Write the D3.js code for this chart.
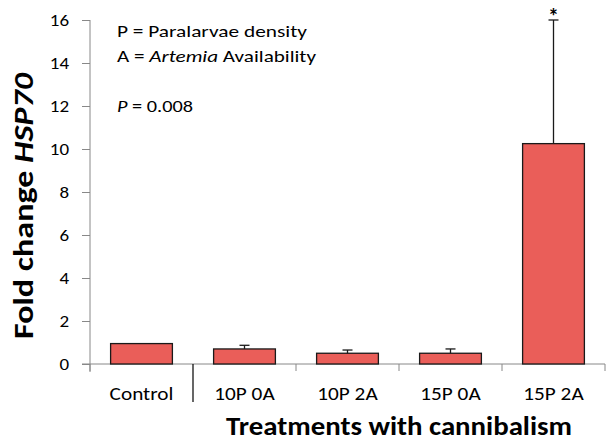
<!DOCTYPE html>
<html><head><meta charset="utf-8">
<script src="https://cdn.jsdelivr.net/npm/d3@7"></script>
<style>
html,body{margin:0;padding:0;background:#fff;}
svg text{font-family:Carlito, Lato, "Open Sans", sans-serif;fill:#000;}
</style></head>
<body>
<svg id="chart" width="613" height="442"></svg>
<script>
const categories = ["Control", "10P 0A", "10P 2A", "15P 0A", "15P 2A"];
const values = [0.95, 0.70, 0.50, 0.50, 10.25];
const errors = [0, 0.17, 0.15, 0.20, 5.75];
const significance = ["", "", "", "", "*"];
const yTicks = [0, 2, 4, 6, 8, 10, 12, 14, 16];

const svg = d3.select("#chart");
const mLeft = 90, mRight = 605, mTop = 20, mBottom = 364;

// horizontal stretch helper (reference glyphs are wider than tall)
function stretch(sel, factor) {
  sel.each(function () {
    const w = this.getComputedTextLength();
    d3.select(this).attr("textLength", w * factor).attr("lengthAdjust", "spacingAndGlyphs");
  });
}

const x = d3.scaleBand().domain(categories).range([mLeft, mRight]).paddingInner(0.4).paddingOuter(0.2);
const xb = d3.scaleBand().domain(categories).range([mLeft, mRight]);
const y = d3.scaleLinear().domain([0, 16]).range([mBottom, mTop]);

// y axis
const yAxis = svg.append("g").attr("transform", `translate(${mLeft},0)`)
  .call(d3.axisLeft(y).tickValues(yTicks).tickSize(8).tickPadding(13));
yAxis.select(".domain").attr("stroke", "#888").attr("d", `M0,${mTop}V${mBottom+8}`);
yAxis.selectAll(".tick line").attr("stroke", "#888");
const tickTexts = yAxis.selectAll(".tick text").attr("font-size", 16.5)
  .style("font-family", "Carlito, Lato, sans-serif").attr("fill", "#000");
stretch(tickTexts, 1.15);

// x axis line
svg.append("line").attr("x1", mLeft - 8).attr("x2", mRight).attr("y1", mBottom).attr("y2", mBottom).attr("stroke", "#888");
// x category boundary ticks
const bounds = categories.map(c => xb(c)).concat([mRight]);
svg.selectAll(".xtick").data(bounds).enter().append("line")
  .attr("x1", d => d).attr("x2", d => d)
  .attr("y1", mBottom)
  .attr("y2", (d, i) => i === 1 ? mBottom + 38 : mBottom + 7)
  .attr("stroke", (d, i) => i === 1 ? "#000" : "#888")
  .attr("stroke-width", (d, i) => i === 1 ? 1.2 : 1);

// bars
svg.selectAll(".bar").data(categories).enter().append("rect")
  .attr("x", d => x(d)).attr("width", x.bandwidth())
  .attr("y", (d, i) => y(values[i])).attr("height", (d, i) => y(0) - y(values[i]))
  .attr("fill", "#EA5E59").attr("stroke", "#1a1a1a").attr("stroke-width", 1.3);

// error bars
categories.forEach((c, i) => {
  if (!errors[i]) return;
  const cx = x(c) + x.bandwidth() / 2;
  svg.append("line").attr("x1", cx).attr("x2", cx).attr("y1", y(values[i])).attr("y2", y(values[i] + errors[i]))
    .attr("stroke", "#1a1a1a").attr("stroke-width", 1.3);
  svg.append("line").attr("x1", cx - 5).attr("x2", cx + 5).attr("y1", y(values[i] + errors[i])).attr("y2", y(values[i] + errors[i]))
    .attr("stroke", "#1a1a1a").attr("stroke-width", 1.3);
  if (significance[i]) {
    svg.append("text").attr("x", cx).attr("y", y(values[i] + errors[i]) + 4)
      .attr("text-anchor", "middle").attr("font-size", 22).attr("font-weight", "bold").text(significance[i]);
  }
});

// category labels
const catLabels = svg.selectAll(".clab").data(categories).enter().append("text")
  .attr("x", d => xb(d) + xb.bandwidth() / 2).attr("y", 400)
  .attr("text-anchor", "middle").attr("font-size", 18).text(d => d);
stretch(catLabels, 1.18);

// axis titles
svg.append("text").attr("x", 399).attr("y", 435).attr("text-anchor", "middle")
  .attr("font-size", 27).attr("font-weight", "bold")
  .attr("textLength", 346).attr("lengthAdjust", "spacingAndGlyphs")
  .text("Treatments with cannibalism");
const yt = svg.append("text").attr("transform", "translate(33,206) rotate(-90)").attr("text-anchor", "middle")
  .attr("font-size", 28).attr("font-weight", "bold")
  .attr("textLength", 266).attr("lengthAdjust", "spacingAndGlyphs");
yt.append("tspan").text("Fold change ");
yt.append("tspan").attr("font-style", "italic").text("HSP70");

// annotations
svg.append("text").attr("x", 117).attr("y", 37).attr("font-size", 16.5)
  .attr("textLength", 190).attr("lengthAdjust", "spacingAndGlyphs").text("P = Paralarvae density");
const t2 = svg.append("text").attr("x", 117).attr("y", 61.5).attr("font-size", 16.5)
  .attr("textLength", 199).attr("lengthAdjust", "spacingAndGlyphs");
t2.append("tspan").text("A = ");
t2.append("tspan").attr("font-style", "italic").text("Artemia");
t2.append("tspan").text(" Availability");
const t3 = svg.append("text").attr("x", 117).attr("y", 111.5).attr("font-size", 16.5)
  .attr("textLength", 76).attr("lengthAdjust", "spacingAndGlyphs");
t3.append("tspan").attr("font-style", "italic").text("P");
t3.append("tspan").text(" = 0.008");
</script>
</body></html>
